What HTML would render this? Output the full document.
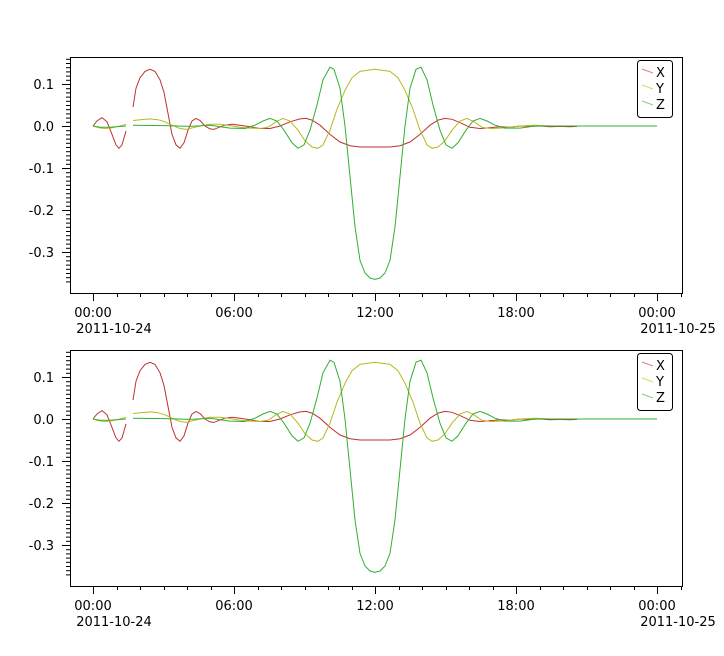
<!DOCTYPE html>
<html><head><meta charset="utf-8"><style>
html,body{margin:0;padding:0;background:#fff;}
svg{display:block;font-family:"DejaVu Sans","Liberation Sans",sans-serif;}
</style></head><body>
<svg id="s" width="724" height="656" xmlns="http://www.w3.org/2000/svg">
<g id="plot"></g>
<use href="#plot" x="0" y="293"/>
</svg>
<script>
var g=document.getElementById('plot'),NS='http://www.w3.org/2000/svg',h='';
function Y(v){return 126-v*420;}
function pl(pts,c){return '<polyline fill="none" stroke="'+c+'" stroke-width="1" points="'+pts.map(p=>p[0]+','+Y(p[1]).toFixed(1)).join(' ')+'"/>';}
// axes box
h+='<rect x="70.5" y="57.5" width="612" height="236" fill="none" stroke="#000"/>';
// y ticks
for(var i=-37;i<=16;i++){var y=Y(i/100);if(y<58||y>293)continue;var L=(i%10==0)?8:4;h+='<line x1="'+(70-L)+'" x2="70" y1="'+(y+0.5)+'" y2="'+(y+0.5)+'" stroke="#000"/>';}
[[0.1,'0.1'],[0,'0.0'],[-0.1,'-0.1'],[-0.2,'-0.2'],[-0.3,'-0.3']].forEach(function(a){h+='<text x="54" y="'+(Y(a[0])+5)+'" font-size="13" text-anchor="end">'+a[1]+'</text>';});
// x ticks
for(var k=-1;k<=25;k++){var x=93+23.5*k;if(x<70||x>682)continue;var L=(k%6==0)?8:4;x=Math.round(x)+0.5;h+='<line x1="'+x+'" x2="'+x+'" y1="293" y2="'+(293+L)+'" stroke="#000"/>';}
[[93,'00:00','2011-10-24'],[234,'06:00',''],[375,'12:00',''],[516,'18:00',''],[657,'00:00','2011-10-25']].forEach(function(a){h+='<text x="'+a[0]+'" y="317" font-size="13" text-anchor="middle">'+a[1]+'</text>';if(a[2])h+='<text x="'+(a[0]+21)+'" y="333" font-size="13" text-anchor="middle">'+a[2]+'</text>';});
var R='#c0302f',Yc='#b8b820',G='#30b030';
h+=pl([[93,0],[97,0.012],[102,0.02],[107,0.01],[112,-0.02],[116,-0.045],[119,-0.053],[122,-0.045],[126,-0.012]],R);
h+=pl([[133,0.045],[136,0.09],[140,0.115],[145,0.13],[150,0.135],[155,0.13],[160,0.11],[164,0.08],[168,0.03],[172,-0.02],[176,-0.045],[180,-0.053],[184,-0.04],[188,-0.01],[192,0.012],[196,0.018],[200,0.013],[205,0],[210,-0.007],[214,-0.008],[219,-0.003],[225,0.002],[232,0.004],[240,0.002],[250,-0.002],[260,-0.006],[270,-0.006],[280,0],[290,0.01],[300,0.017],[306,0.018],[312,0.014],[320,0.002],[330,-0.02],[340,-0.038],[350,-0.047],[360,-0.05],[390,-0.05],[400,-0.047],[410,-0.038],[420,-0.02],[430,0.002],[438,0.014],[445,0.018],[452,0.016],[460,0.008],[470,-0.003],[480,-0.006],[490,-0.004],[500,-0.002],[510,-0.003],[520,0],[530,-0.001],[540,0],[550,-0.002],[560,-0.001],[570,-0.002],[577,-0.001]],R);
h+=pl([[93,0],[99,-0.004],[105,-0.006],[112,-0.004],[120,0],[126,0.004]],Yc);
h+=pl([[133,0.013],[140,0.015],[150,0.017],[158,0.015],[165,0.01],[172,0.002],[180,-0.006],[187,-0.008],[193,-0.004],[200,0],[210,0.004],[220,0.004],[230,0.001],[240,-0.003],[250,-0.005],[260,-0.006],[268,-0.003],[276,0.01],[283,0.018],[290,0.012],[298,-0.01],[305,-0.035],[312,-0.05],[318,-0.053],[323,-0.045],[330,-0.01],[337,0.04],[345,0.085],[352,0.115],[360,0.13],[375,0.135],[390,0.13],[398,0.115],[405,0.085],[413,0.04],[420,-0.01],[427,-0.045],[432,-0.053],[438,-0.05],[445,-0.035],[452,-0.01],[460,0.012],[467,0.018],[474,0.01],[482,-0.003],[490,-0.006],[500,-0.005],[510,-0.003],[520,0],[535,0.002],[550,0],[577,0]],Yc);
h+=pl([[93,0],[100,-0.003],[110,-0.003],[126,0]],G);
h+=pl([[133,0.002],[165,0.001],[190,-0.001],[210,0.002],[230,-0.005],[245,-0.006],[255,0.002],[263,0.012],[270,0.018],[277,0.012],[284,-0.01],[292,-0.04],[298,-0.053],[304,-0.045],[310,-0.01],[317,0.05],[323,0.11],[330,0.14],[334,0.135],[340,0.09],[345,0],[350,-0.12],[355,-0.24],[360,-0.32],[365,-0.35],[370,-0.362],[375,-0.365],[380,-0.362],[385,-0.35],[390,-0.32],[395,-0.24],[400,-0.12],[405,0],[410,0.09],[416,0.135],[421,0.14],[427,0.11],[433,0.05],[440,-0.01],[446,-0.045],[452,-0.053],[458,-0.04],[466,-0.01],[473,0.012],[480,0.018],[487,0.012],[495,0.002],[505,-0.005],[520,-0.005],[535,0],[657,0]],G);
// legend
h+='<rect x="637.5" y="60.5" width="35" height="57" rx="3" fill="#fff" stroke="#000"/>';
[['X','#e08080',72],['Y','#d8d860',88],['Z','#80d080',104]].forEach(function(a){h+='<line x1="642" y1="'+(a[2]-3)+'" x2="653" y2="'+(a[2]+1)+'" stroke="'+a[1]+'"/><text x="656" y="'+(a[2]+5)+'" font-size="13">'+a[0]+'</text>';});
g.innerHTML=h;
</script>
</body></html>
